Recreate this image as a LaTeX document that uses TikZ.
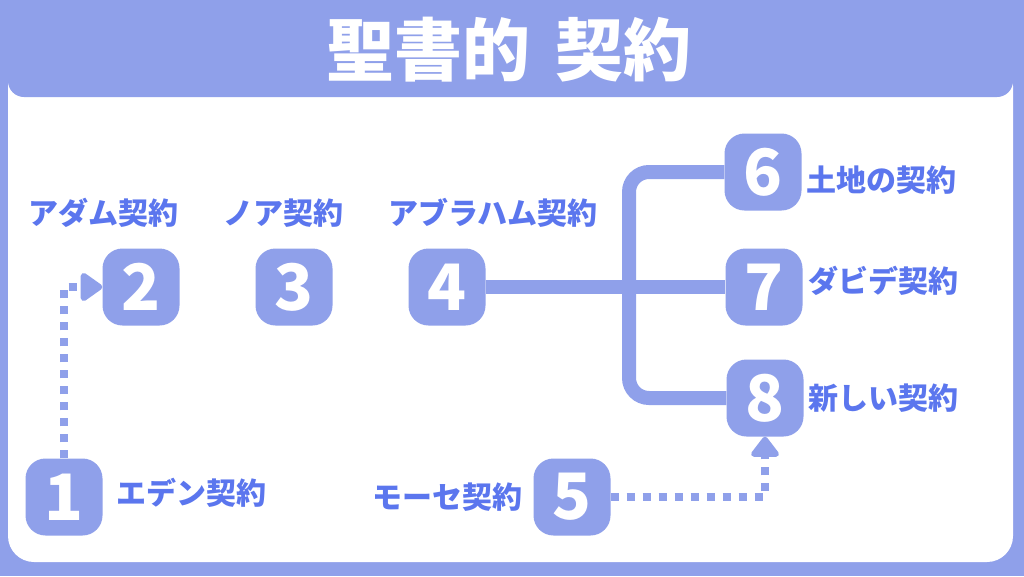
\documentclass[tikz,border=0pt]{standalone}
\usepackage{fontspec}
\newfontfamily\jp{Noto Sans CJK JP}
\usetikzlibrary{arrows.meta}
\definecolor{peri}{HTML}{8FA0EA}
\definecolor{lbl}{HTML}{5B76EE}
\begin{document}
\begin{tikzpicture}[x=1pt,y=-1pt,
  numbox/.style={rectangle, rounded corners=20pt, fill=peri, minimum width=77pt, minimum height=77pt, inner sep=0pt, text=white, font=\jp\bfseries\fontsize{64}{64}\selectfont},
  lab/.style={text=lbl, font=\jp\bfseries\fontsize{30}{30}\selectfont, inner sep=0pt},
  tree/.style={draw=peri, line width=14pt},
  dotline/.style={draw=peri, line width=8pt, dash pattern=on 8pt off 8pt}]
\useasboundingbox (0,0) rectangle (1024,576);
\fill[peri] (0,0) rectangle (1024,576);
\fill[white, rounded corners=26pt] (8,60) rectangle (1013,562);
\fill[peri, rounded corners=16pt] (8,-30) rectangle (1013,97);
\node[font=\jp\bfseries\fontsize{68}{68}\selectfont, text=white, inner sep=0pt] (title) at (509,50) {聖書的\hspace{0.38em}契約};

\node[numbox] (n1) at (64,497) {1};
\node[numbox] (n2) at (141,287) {2};
\node[numbox] (n3) at (294,287) {3};
\node[numbox] (n4) at (447,287) {4};
\node[numbox] (n5) at (572,497) {5};
\node[numbox] (n6) at (763,172) {6};
\node[numbox] (n7) at (764,287) {7};
\node[numbox] (n8) at (765,398) {8};

\coordinate (br) at (629,287);
\draw[tree] (n4.east) -- (n7.west);
\draw[tree, rounded corners=20pt] (br) |- (n6.west);
\draw[tree, rounded corners=20pt] (br) |- (n8.west);

\draw[dotline, -{Triangle[length=24pt,width=32pt,round]}] (n1.north) |- (n2.west);
\draw[dotline, -{Triangle[length=22pt,width=32pt,round]}] (n5.east) -| (n8.south);

\node[lab] (l2) at (103,213) {アダム契約};
\node[lab] (l3) at (283,213) {ノア契約};
\node[lab] (l4) at (493,213) {アブラハム契約};
\node[lab, anchor=west] (l1) at (116,493) {エデン契約};
\node[lab, anchor=east] (l5) at (523,497) {モーセ契約};
\node[lab, anchor=west] (l6) at (806,180) {土地の契約};
\node[lab, anchor=west] (l7) at (808,281) {ダビデ契約};
\node[lab, anchor=west] (l8) at (808,398) {新しい契約};
\end{tikzpicture}
\end{document}
